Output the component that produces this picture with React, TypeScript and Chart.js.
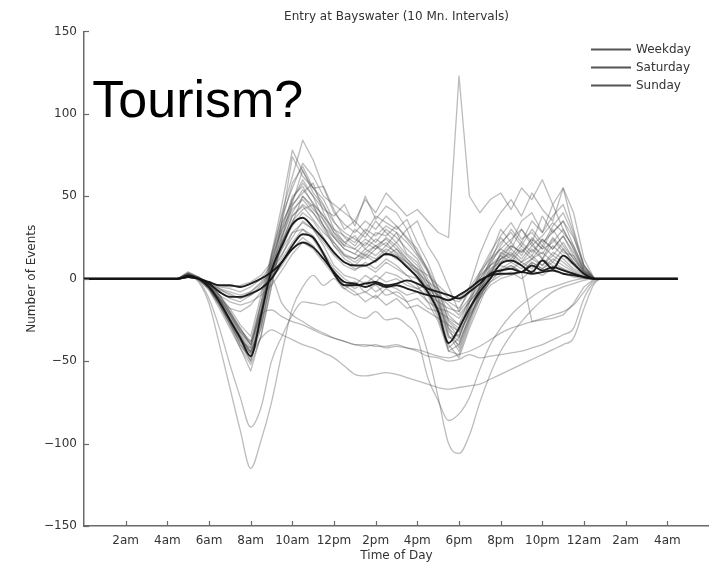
import React, { useEffect, useRef } from 'react';
import { Chart, registerables } from 'chart.js';

Chart.register(...registerables);

// ---------- data ----------
const TITLE = 'Entry at Bayswater (10 Mn. Intervals)';
const X_TITLE = 'Time of Day';
const Y_TITLE = 'Number of Events';
const ANNOTATION = 'Tourism?';

const X_TICKS = [2, 4, 6, 8, 10, 12, 14, 16, 18, 20, 22, 24, 26, 28];
const X_TICK_LABELS = ['2am', '4am', '6am', '8am', '10am', '12pm', '2pm', '4pm', '6pm', '8pm', '10pm', '12am', '2am', '4am'];
const Y_TICKS = [-150, -100, -50, 0, 50, 100, 150];

// hours since midnight
const HOURS = [0, 4.5,
  5, 5.5, 6, 6.5, 7, 7.5, 8, 8.5, 9, 9.5,
  10, 10.5, 11, 11.5, 12, 12.5, 13, 13.5, 14, 14.5,
  15, 15.5, 16, 16.5, 17, 17.5, 18, 18.5, 19, 19.5,
  20, 20.5, 21, 21.5, 22, 22.5, 23, 23.5, 24, 24.5,
  25, 28.5];

const WEEKDAY = [0, 0,
  2, 0, -5, -14, -25, -36, -47, -22, 5, 20,
  33, 37, 31, 24, 16, 10, 8, 8, 11, 15,
  13, 7, 1, -8, -20, -39, -30, -18, -8, 0,
  9, 11, 8, 4, 11, 6, 14, 9, 3, 0,
  0, 0];
const SATURDAY = [0, 0,
  1, 0, -2, -4, -4, -5, -3, 0, 4, 10,
  20, 27, 25, 15, 3, -4, -4, -3, -2, -4,
  -3, -1, -3, -6, -8, -10, -12, -8, -3, 3,
  5, 6, 4, 8, 5, 7, 5, 3, 1, 0,
  0, 0];
const SUNDAY = [0, 0,
  1, 0, -3, -8, -11, -11, -9, -6, 0, 10,
  18, 22, 19, 12, 4, -2, -3, -5, -3, -5,
  -4, -6, -8, -10, -11, -13, -10, -6, -1, 2,
  3, 3, 4, 3, 4, 5, 3, 2, 1, 0,
  0, 0];

// individual days (gray), typical days
const G1 = [0, 0, 3, 0, -6, -15, -27, -40, -50, -25, 12, 40, 62, 84, 72, 55, 40, 33, 28, 35, 30, 38, 32, 25, 18, 5, -12, -35, -40, -22, -8, 8, 20, 30, 22, 35, 28, 45, 30, 18, 5, 0, 0, 0];
const G2 = [0, 0, 4, 1, -4, -12, -22, -34, -44, -30, 0, 35, 74, 62, 55, 45, 30, 22, 26, 18, 24, 20, 28, 15, 10, -2, -15, -30, -42, -25, -12, 3, 15, 22, 14, 25, 18, 30, 20, 12, 4, 0, 0, 0];
const G3 = [0, 0, 2, 0, -7, -18, -30, -42, -52, -35, -5, 25, 48, 60, 50, 35, 25, 18, 15, 22, 18, 25, 20, 12, 5, -5, -18, -40, -48, -30, -15, 0, 10, 18, 12, 20, 15, 25, 18, 10, 3, 0, 0, 0];
const G4 = [0, 0, 3, 0, -5, -13, -24, -35, -45, -28, 2, 28, 45, 52, 58, 40, 28, 20, 30, 25, 35, 28, 22, 30, 15, 5, -10, -28, -35, -20, -5, 10, 25, 18, 30, 22, 38, 28, 35, 25, 8, 0, 0, 0];
const G5 = [0, 0, 2, -1, -6, -16, -28, -38, -42, -18, 8, 30, 42, 48, 40, 32, 22, 15, 12, 18, 14, 20, 16, 10, 3, -6, -18, -36, -34, -20, -6, 5, 14, 10, 18, 12, 20, 14, 22, 12, 4, 0, 0, 0];
const G6 = [0, 0, 3, 0, -4, -11, -20, -30, -40, -20, 5, 22, 38, 44, 36, 28, 22, 14, 12, 16, 20, 14, 18, 12, 6, -4, -14, -32, -38, -24, -10, 2, 12, 16, 10, 14, 8, 16, 12, 6, 2, 0, 0, 0];
const G7 = [0, 0, 4, 1, -5, -14, -26, -40, -48, -25, 15, 45, 78, 65, 55, 48, 35, 25, 20, 28, 22, 30, 25, 18, 12, 0, -12, -30, -36, -18, -4, 12, 22, 28, 20, 30, 22, 28, 35, 20, 6, 0, 0, 0];
const G8 = [0, 0, 2, 0, -6, -15, -26, -38, -50, -30, 0, 22, 35, 42, 45, 32, 25, 18, 15, 12, 18, 22, 15, 8, 0, -10, -24, -42, -36, -20, -5, 6, 10, 14, 8, 12, 16, 10, 18, 10, 3, 0, 0, 0];
const G9 = [0, 0, 3, 1, -3, -10, -20, -32, -40, -15, 12, 30, 50, 56, 45, 38, 30, 26, 22, 30, 26, 32, 28, 22, 14, 4, -8, -25, -30, -15, 0, 10, 18, 24, 30, 20, 26, 34, 28, 20, 6, 0, 0, 0];
const G10 = [0, 0, 2, 0, -5, -14, -24, -36, -46, -26, 4, 18, 28, 34, 30, 22, 14, 8, 5, 10, 6, 12, 8, 2, -4, -14, -26, -44, -40, -24, -10, -2, 5, 8, 4, 10, 6, 12, 8, 4, 1, 0, 0, 0];
const G11 = [0, 0, 3, 0, -6, -16, -26, -36, -44, -22, 8, 35, 58, 68, 55, 56, 42, 30, 35, 28, 38, 34, 30, 36, 22, 10, -6, -26, -32, -14, 2, 14, 30, 22, 35, 40, 28, 38, 45, 28, 8, 0, 0, 0];
const G12 = [0, 0, 2, 0, -4, -12, -22, -33, -42, -20, 6, 26, 40, 50, 42, 36, 26, 20, 18, 24, 20, 16, 22, 14, 8, -2, -16, -34, -44, -26, -8, 4, 12, 20, 16, 22, 12, 24, 16, 14, 4, 0, 0, 0];
const G13 = [0, 0, 3, 1, -3, -10, -18, -28, -35, -10, 15, 38, 55, 70, 62, 50, 45, 40, 35, 48, 40, 52, 45, 38, 42, 35, 28, 25, 123, 50, 40, 48, 52, 42, 55, 48, 60, 45, 55, 40, 12, 0, 0, 0];
const G14 = [0, 0, 2, 0, -4, -12, -22, -32, -40, -18, 10, 32, 48, 58, 50, 42, 38, 45, 32, 50, 36, 44, 40, 30, 35, 20, 10, -5, -20, -5, 15, 30, 40, 48, 38, 52, 42, 35, 55, 30, 8, 0, 0, 0];
const G15 = [0, 0, 3, 0, -6, -16, -28, -42, -56, -34, -4, 24, 44, 54, 46, 38, 28, 22, 18, 14, 20, 24, 18, 10, 4, -8, -22, -44, -46, -28, -12, 2, 16, 12, 20, 14, 24, 18, 26, 16, 5, 0, 0, 0];
const G16 = [0, 0, 2, 0, -4, -12, -21, -31, -38, -14, 14, 34, 46, 66, 52, 44, 34, 28, 24, 20, 28, 26, 32, 24, 16, 6, -6, -22, -28, -12, 4, 16, 26, 34, 24, 28, 20, 32, 40, 26, 7, 0, 0, 0];
const E1 = [0, 0, 1, 0, -3, -6, -8, -10, -8, -3, 5, 15, 25, 35, 30, 20, 8, 2, 0, -3, 2, -2, 0, -4, -6, -10, -14, -18, -20, -12, -4, 4, 8, 6, 10, 6, 12, 8, 6, 3, 1, 0, 0, 0];
const E2 = [0, 0, 2, 0, -2, -5, -6, -8, -5, 0, 8, 20, 32, 40, 35, 25, 15, 10, 6, 8, 4, 10, 6, 2, 0, -6, -10, -14, -18, -8, 2, 8, 12, 15, 10, 18, 12, 20, 14, 8, 2, 0, 0, 0];
const E3 = [0, 0, 1, 0, -4, -10, -14, -16, -14, -10, -4, 5, 15, 22, 18, 10, 2, -6, -10, -8, -12, -6, -10, -14, -12, -18, -20, -24, -28, -18, -10, -2, 2, 4, 0, 5, 2, 6, 3, 1, 0, 0, 0, 0];
const E4 = [0, 0, 2, 0, -3, -8, -12, -14, -10, -4, 4, 14, 28, 30, 26, 16, 6, 0, -4, 2, -2, 4, 2, -2, -6, -4, -10, -16, -22, -14, -6, 2, 6, 10, 6, 12, 8, 14, 10, 5, 1, 0, 0, 0];
const E5 = [0, 0, 1, 0, -2, -4, -5, -4, -2, 2, 10, 22, 38, 45, 40, 30, 20, 14, 10, 15, 12, 18, 14, 10, 6, 2, -4, -10, -12, -6, 4, 12, 18, 14, 22, 16, 24, 18, 26, 14, 4, 0, 0, 0];
const E6 = [0, 0, 2, 0, -5, -12, -18, -20, -16, -8, 0, 8, 18, 25, 20, 12, 5, -4, -8, -14, -10, -16, -12, -18, -16, -20, -24, -28, -32, -22, -12, -4, 0, 2, 4, -26, -25, -24, -22, -15, -5, 0, 0, 0];
const E7 = [0, 0, 1, 0, -3, -7, -9, -12, -10, -6, 2, 12, 22, 30, 24, 14, 4, -2, -6, -2, -8, -4, -6, -10, -8, -14, -18, -20, -24, -14, -6, 0, 4, 8, 4, 10, 6, 10, 6, 3, 1, 0, 0, 0];
const E8 = [0, 0, 2, 0, -2, -6, -10, -12, -8, -2, 6, 18, 34, 50, 44, 32, 20, 12, 8, 14, 10, 16, 12, 8, 4, -2, -6, -12, -14, -8, 0, 8, 14, 20, 16, 24, 18, 22, 30, 18, 5, 0, 0, 0];
// unusual days (smooth outliers)
const O1 = [0, 0, 2, -2, -15, -40, -66, -92, -115, -98, -75, -45, -18, -5, 2, -4, 0, -6, -2, -8, -4, -10, -8, -14, -25, -45, -72, -100, -106, -95, -75, -58, -44, -34, -26, -19, -13, -8, -5, -3, -1, 0, 0, 0];
const O2 = [0, 0, 2, -1, -12, -30, -52, -72, -90, -78, -50, -35, -22, -14, -15, -16, -14, -18, -22, -24, -20, -25, -24, -28, -36, -60, -74, -86, -82, -72, -55, -40, -30, -22, -16, -11, -7, -5, -3, -1, 0, 0, 0, 0];
const O3 = [0, 0, 2, 0, -5, -14, -25, -36, -45, -36, -31, -34, -37, -40, -42, -45, -48, -53, -58, -59, -58, -57, -58, -60, -62, -64, -66, -67, -66, -65, -64, -61, -58, -55, -52, -49, -46, -43, -40, -36, -18, -3, 0, 0];
const O4 = [0, 0, 2, 0, -5, -13, -24, -35, -44, -22, -19, -23, -26, -28, -31, -34, -36, -38, -40, -40, -41, -41, -40, -42, -43, -45, -47, -48, -46, -44, -41, -37, -33, -30, -28, -26, -24, -22, -20, -16, -8, -1, 0, 0];
const O5 = [0, 0, 3, 0, -4, -10, -20, -30, -38, -15, 0, -15, -22, -26, -30, -33, -36, -38, -40, -41, -40, -42, -41, -42, -44, -47, -48, -50, -49, -46, -48, -47, -46, -45, -44, -42, -40, -37, -34, -30, -12, -2, 0, 0];

const DAYS = [G1, G2, G3, G4, G5, G6, G7, G8, G9, G10, G11, G12, G13, G14, G15, G16,
  E1, E2, E3, E4, E5, E6, E7, E8];
const ODD_DAYS = [O1, O2, O3, O4, O5];

const MEANS = [
  { label: 'Weekday', values: WEEKDAY },
  { label: 'Saturday', values: SATURDAY },
  { label: 'Sunday', values: SUNDAY },
];

// ---------- styles ----------
const FONT = '"DejaVu Sans", "Liberation Sans", Arial, sans-serif';
const AXIS_COLOR = '#6a6a6a';
const TEXT_COLOR = '#333333';
const MEAN_COLOR = 'rgba(20,20,20,0.95)';
const DAY_COLOR = 'rgba(80,80,80,0.38)';

const toPoints = (vals: number[]) => HOURS.map((h, i) => ({ x: h, y: vals[i] }));

const decorPlugin = {
  id: 'decor',
  afterDraw(chart: any) {
    const { ctx, chartArea, scales } = chart;
    const xs = scales.x;
    const ys = scales.y;
    ctx.save();
    // inward tick marks
    ctx.strokeStyle = AXIS_COLOR;
    ctx.lineWidth = 1.2;
    X_TICKS.forEach((v) => {
      const px = Math.round(xs.getPixelForValue(v)) + 0.5;
      ctx.beginPath();
      ctx.moveTo(px, chartArea.bottom);
      ctx.lineTo(px, chartArea.bottom - 5);
      ctx.stroke();
    });
    Y_TICKS.forEach((v) => {
      const py = Math.round(ys.getPixelForValue(v)) + 0.5;
      ctx.beginPath();
      ctx.moveTo(chartArea.left, py);
      ctx.lineTo(chartArea.left + 5, py);
      ctx.stroke();
    });
    // big annotation
    ctx.fillStyle = '#000';
    ctx.font = '52px "Liberation Sans", Arial, sans-serif';
    ctx.textBaseline = 'alphabetic';
    ctx.textAlign = 'left';
    ctx.fillText(ANNOTATION, xs.getPixelForValue(0.4), ys.getPixelForValue(98));
    // legend
    const lx0 = chartArea.right - 118;
    const lx1 = chartArea.right - 78;
    ctx.font = `12px ${FONT}`;
    ctx.textBaseline = 'middle';
    MEANS.forEach((m, i) => {
      const y = chartArea.top + 18 + i * 18;
      ctx.strokeStyle = '#555';
      ctx.lineWidth = 2;
      ctx.beginPath();
      ctx.moveTo(lx0, y);
      ctx.lineTo(lx1, y);
      ctx.stroke();
      ctx.fillStyle = TEXT_COLOR;
      ctx.fillText(m.label, lx1 + 5, y);
    });
    ctx.restore();
  },
};

export default function App() {
  const ref = useRef<HTMLCanvasElement>(null);

  useEffect(() => {
    if (!ref.current) return;
    const datasets: any[] = [
      ...MEANS.map((m) => ({
        label: m.label,
        data: toPoints(m.values),
        borderColor: MEAN_COLOR,
        borderWidth: 1.9,
        pointRadius: 0,
        cubicInterpolationMode: 'monotone',
      })),
      ...DAYS.map((d, i) => ({
        label: 'day' + (i + 1),
        data: toPoints(d),
        borderColor: DAY_COLOR,
        borderWidth: 1.3,
        pointRadius: 0,
        tension: 0,
        borderJoinStyle: 'round',
      })),
      ...ODD_DAYS.map((d, i) => ({
        label: 'odd' + (i + 1),
        data: toPoints(d),
        borderColor: DAY_COLOR,
        borderWidth: 1.3,
        pointRadius: 0,
        cubicInterpolationMode: 'monotone',
      })),
    ];
    const chart = new Chart(ref.current, {
      type: 'line',
      data: { datasets },
      options: {
        animation: false,
        responsive: false,
        devicePixelRatio: 1,
        events: [],
        layout: { padding: 0 },
        plugins: {
          legend: { display: false },
          tooltip: { enabled: false },
          title: {
            display: true,
            fullSize: false,
            text: TITLE,
            color: TEXT_COLOR,
            font: { family: FONT, size: 12, weight: 'normal' },
            padding: { top: 10, bottom: 7 },
          },
        },
        scales: {
          x: {
            type: 'linear',
            min: 0,
            max: 30,
            grid: { display: false, drawTicks: false },
            border: { display: true, color: AXIS_COLOR, width: 1.5 },
            ticks: {
              stepSize: 2,
              autoSkip: false,
              maxRotation: 0,
              padding: 8,
              color: TEXT_COLOR,
              font: { family: FONT, size: 12 },
              callback: (value: any) => {
                const i = X_TICKS.indexOf(Number(value));
                return i >= 0 ? X_TICK_LABELS[i] : '';
              },
            },
            title: {
              display: true,
              text: X_TITLE,
              color: TEXT_COLOR,
              font: { family: FONT, size: 12 },
              padding: { top: 0, bottom: 1 },
            },
            afterFit: (s: any) => {
              s.height = 38;
              s.paddingLeft = 0;
              s.paddingRight = 0;
            },
          },
          y: {
            type: 'linear',
            min: -150,
            max: 150,
            grid: { display: false, drawTicks: false },
            border: { display: true, color: AXIS_COLOR, width: 1.5 },
            ticks: {
              stepSize: 50,
              padding: 7,
              color: TEXT_COLOR,
              font: { family: FONT, size: 12 },
              callback: (value: any) => {
                const v = Number(value);
                return v < 0 ? '\u2212' + Math.abs(v) : String(v);
              },
            },
            title: {
              display: true,
              text: Y_TITLE,
              color: TEXT_COLOR,
              font: { family: FONT, size: 12 },
              padding: { top: 25, bottom: 0 },
            },
            afterFit: (s: any) => {
              s.width = 84;
            },
          },
        },
      } as any,
      plugins: [decorPlugin],
    });
    return () => chart.destroy();
  }, []);

  return (
    <div style={{ position: 'fixed', left: 0, top: 0, width: 709, height: 564, background: '#fff' }}>
      <canvas ref={ref} width={709} height={564} style={{ display: 'block' }} />
    </div>
  );
}
